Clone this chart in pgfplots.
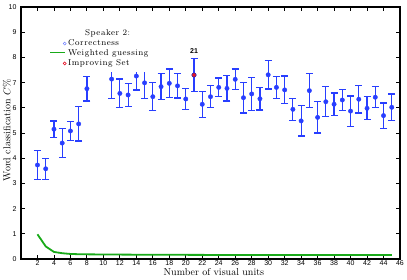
\documentclass[border=0pt]{standalone}
\usepackage{fontspec}
\usepackage{pgfplots}
\usepackage{pgfplotstable}
\pgfplotsset{compat=1.18}
\newfontfamily\hel{Liberation Sans}
\newfontfamily\lmsp[LetterSpace=6]{Latin Modern Roman}
\definecolor{mblue}{RGB}{40,62,255}
\definecolor{mgreen}{RGB}{25,170,25}
\definecolor{mred}{RGB}{230,20,40}
\pgfplotstableread{
x y e
2 3.73 0.57
3 3.58 0.42
4 5.15 0.33
5 4.60 0.57
6 5.08 0.38
7 5.36 0.68
8 6.76 0.49
11 7.14 0.76
12 6.57 0.57
13 6.51 0.47
14 7.26 0.55
15 6.99 0.62
16 6.44 0.55
17 6.84 0.52
18 6.97 0.57
19 6.87 0.48
20 6.35 0.42
21 7.30 0.66
22 6.14 0.52
23 6.44 0.43
24 6.81 0.37
25 6.77 0.50
26 7.13 0.41
27 6.40 0.61
28 6.55 0.66
29 6.36 0.45
30 7.31 0.56
31 6.81 0.43
32 6.71 0.55
33 5.94 0.43
34 5.48 0.60
35 6.68 0.67
36 5.62 0.62
37 6.24 0.60
38 6.14 0.45
39 6.31 0.43
40 5.87 0.60
41 6.34 0.55
42 5.98 0.46
43 6.42 0.41
44 5.69 0.50
45 6.02 0.53
}\correct
\pgfplotstableread{
x y
2 0.98
3 0.50
4 0.28
5 0.23
6 0.20
7 0.19
8 0.185
10 0.18
12 0.175
15 0.17
20 0.165
25 0.16
30 0.16
35 0.16
40 0.16
45 0.16
}\guess
\begin{document}
\begin{tikzpicture}
\begin{axis}[
  set layers,
  scale only axis,
  width=379pt, height=252pt,
  xmin=0, xmax=46, ymin=0, ymax=10,
  xtick={2,4,...,46},
  ytick={0,1,...,10},
  tick align=inside,
  xtick pos=both, ytick pos=both,
  major tick length=4pt,
  tick style={black, line width=0.9pt},
  axis line style={black, line width=1.4pt},
  /pgf/number format/assume math mode=true,
  tick label style={font=\hel\fontsize{7}{8}\selectfont},
  xticklabel style={yshift=2pt},
  yticklabel style={xshift=-1pt},
  xlabel={Number of visual units},
  ylabel={Word classification $C\%$},
  label style={font=\lmsp\fontsize{7.5}{8}\selectfont},
  every axis x label/.style={at={(axis description cs:0.509,-0.053)}, anchor=center},
  every axis y label/.style={at={(axis description cs:-0.037,0.51)}, rotate=90, anchor=center},
  legend style={at={(axis cs:4.0,9.3)}, anchor=north west, draw=none, fill=white,
    font=\lmsp\fontsize{8.5}{9.5}\selectfont, inner xsep=2pt, inner ysep=3pt, row sep=-1.5pt},
  legend cell align=left,
  clip=false,
]
\addlegendimage{empty legend}
\addlegendentry{\hspace*{17pt}Speaker 2:}
\addlegendimage{only marks, mark=o, mark size=1.5pt, draw=mblue!70, line width=0.5pt}
\addlegendentry{Correctness}
\addlegendimage{empty legend}
\addlegendentry{\makebox[0pt][r]{\textcolor{mgreen}{\rule[2.3pt]{15pt}{1.8pt}}\hspace*{3pt}}Weighted guessing\hspace*{9pt}}
\addlegendimage{only marks, mark=o, mark size=1.5pt, draw=mred, line width=0.6pt}
\addlegendentry{Improving Set}

\addplot[color=mgreen, line width=1.8pt, forget plot] table[x=x,y=y] {\guess};
\addplot[only marks, mark=*, mark size=2.2pt, mblue, forget plot,
  error bars/.cd, y dir=both, y explicit,
  error bar style={line width=1.2pt, mblue},
  error mark options={rotate=90, mark size=3.5pt, line width=1.2pt, mblue}]
  table[x=x, y=y, y error=e] {\correct};
\addplot[only marks, mark=*, mark size=2.2pt, draw=mblue!70!black, fill=mred, forget plot]
  coordinates {(21,7.30)};
\node[font=\hel\bfseries\fontsize{7}{8}\selectfont] at (axis cs:21,8.27) {21};
\end{axis}
\pgfresetboundingbox
\useasboundingbox (-21pt,-20pt) rectangle (386pt,259pt);
\end{tikzpicture}
\end{document}
